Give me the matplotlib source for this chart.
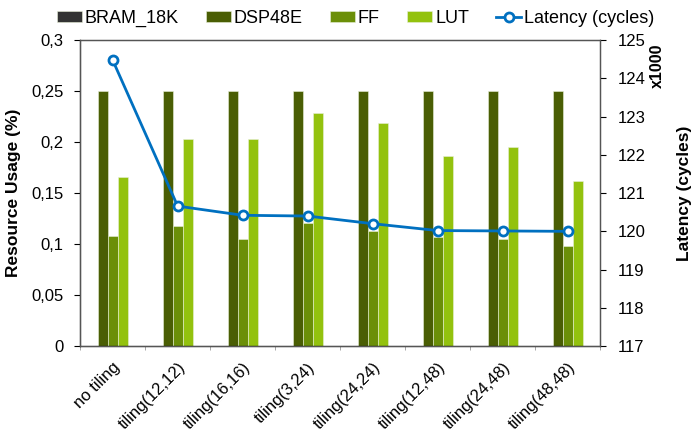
import numpy as np
import matplotlib.pyplot as plt
from matplotlib.ticker import FuncFormatter, FixedLocator

plt.rcParams['font.family'] = ['Liberation Sans', 'DejaVu Sans']

# Data
categories = ['no tiling', 'tiling(12,12)', 'tiling(16,16)', 'tiling(3,24)',
              'tiling(24,24)', 'tiling(12,48)', 'tiling(24,48)', 'tiling(48,48)']
bram = [0, 0, 0, 0, 0, 0, 0, 0]
dsp = [0.25, 0.25, 0.25, 0.25, 0.25, 0.25, 0.25, 0.25]
ff = [0.108, 0.118, 0.105, 0.121, 0.113, 0.107, 0.105, 0.098]
lut = [0.166, 0.203, 0.203, 0.229, 0.219, 0.186, 0.195, 0.162]
latency = [124.48, 120.66, 120.42, 120.40, 120.20, 120.02, 120.01, 120.0]  # x1000 cycles

series = [('BRAM_18K', bram, '#333333'),
          ('DSP48E', dsp, '#4a5e04'),
          ('FF', ff, '#6b8f08'),
          ('LUT', lut, '#93c20e')]

fig = plt.figure(figsize=(6.97, 4.32), dpi=100)
ax = fig.add_axes([0.115, 0.199, 0.746, 0.708])
ax2 = ax.twinx()

x = np.arange(len(categories))
w = 0.154
offsets = [-1.5, -0.5, 0.5, 1.5]
for (name, vals, col), off in zip(series, offsets):
    ax.bar(x + (off - 0.5) * w, vals, w, color=col, label=name,
           edgecolor='#e8f0d8', linewidth=0.4)

ax2.plot(x, latency, '-o', color='#0070c0', lw=2, ms=6.5,
         markerfacecolor='white', markeredgewidth=2, label='Latency (cycles)')

ax.set_xlim(-0.5, len(categories) - 0.5)
ax.set_ylim(0, 0.3)
ax.set_yticks([0, 0.05, 0.1, 0.15, 0.2, 0.25, 0.3])
ax.yaxis.set_major_formatter(FuncFormatter(lambda v, p: ('%g' % round(v, 2)).replace('.', ',')))
ax2.set_ylim(117, 125)
ax2.set_yticks(range(117, 126))

ax.set_xticks(x)
ax.set_xticklabels(categories, rotation=45, ha='right', rotation_mode='anchor')
ax.tick_params(axis='x', length=0, labelsize=12, pad=10)
ax.xaxis.set_minor_locator(FixedLocator(np.arange(-0.5, len(categories), 1)))
ax.tick_params(axis='x', which='minor', length=3, color='#999999')
ax.tick_params(axis='y', labelsize=12, length=4, direction='out', pad=8)
ax2.tick_params(axis='y', labelsize=12, length=4, direction='out', pad=9)

for a in (ax, ax2):
    for s in a.spines.values():
        s.set_color('#555555')
        s.set_linewidth(0.9)
ax.spines['left'].set_color('black')
ax.spines['bottom'].set_color('black')

ax.set_ylabel('Resource Usage (%)', fontsize=12.5, fontweight='bold', va='center')
ax.yaxis.set_label_coords(-0.128, 0.5)
ax2.set_ylabel('Latency (cycles)', fontsize=12.5, fontweight='bold', rotation=90, va='center')
ax2.yaxis.set_label_coords(1.163, 0.5)
fig.text(0.943, 0.847, 'x1000', rotation=90, fontsize=11.5, fontweight='bold',
         ha='center', va='center')

h1, l1 = ax.get_legend_handles_labels()
h2, l2 = ax2.get_legend_handles_labels()
fig.legend(h1 + h2, l1 + l2, loc='upper center', bbox_to_anchor=(0.51, 1.015),
           ncol=5, frameon=False, fontsize=13, handlelength=1.4, handleheight=0.6,
           handletextpad=0.15, columnspacing=1.5)

fig.savefig('out.png', dpi=100)
